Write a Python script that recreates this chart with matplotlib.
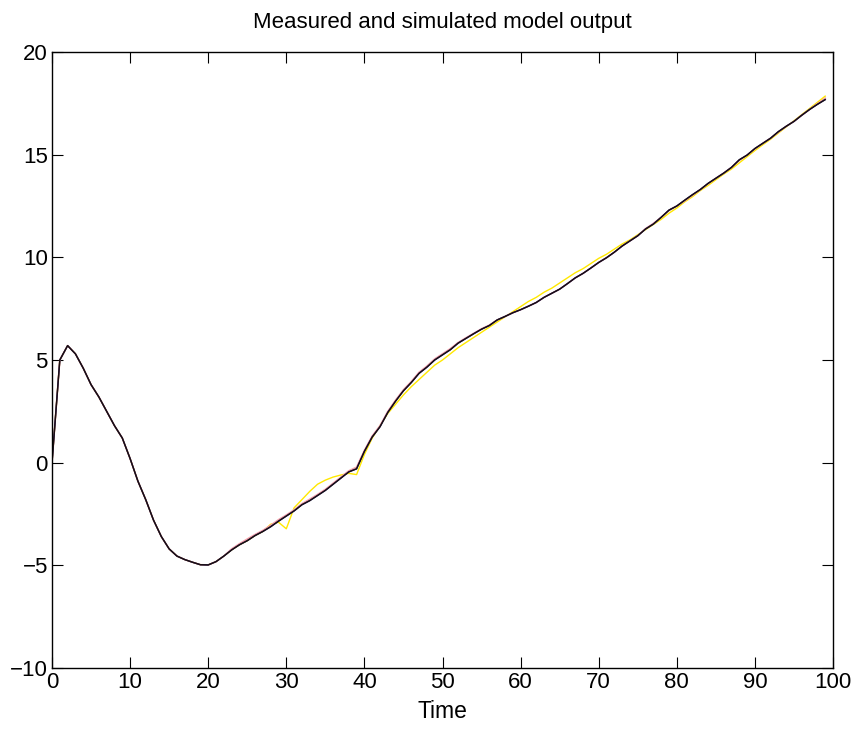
import matplotlib
matplotlib.use("Agg")
import matplotlib.pyplot as plt

plt.rcParams['font.family'] = ['Liberation Sans', 'DejaVu Sans']

time = list(range(100))

measured = [0, 5.0, 5.7, 5.3, 4.6, 3.8, 3.2, 2.5, 1.8, 1.2,
            0.2, -0.9, -1.8, -2.8, -3.6, -4.2, -4.55, -4.72, -4.85, -4.97,
            -4.98, -4.82, -4.55, -4.25, -4.0, -3.8, -3.55, -3.35, -3.0, -2.9,
            -3.22, -2.2, -1.8, -1.4, -1.05, -0.85, -0.7, -0.6, -0.52, -0.58,
            0.4, 1.2, 1.8, 2.4, 2.85, 3.3, 3.7, 4.05, 4.4, 4.75,
            5.0, 5.3, 5.6, 5.85, 6.1, 6.35, 6.6, 6.85, 7.1, 7.35,
            7.6, 7.85, 8.05, 8.3, 8.5, 8.75, 9.0, 9.25, 9.45, 9.7,
            9.95, 10.15, 10.4, 10.65, 10.85, 11.1, 11.35, 11.6, 11.85, 12.15,
            12.4, 12.7, 12.95, 13.25, 13.5, 13.78, 14.05, 14.3, 14.6, 14.9,
            15.2, 15.48, 15.75, 16.05, 16.35, 16.65, 16.95, 17.25, 17.55, 17.85]

model_a = [0, 5.0, 5.7, 5.3, 4.6, 3.8, 3.2, 2.5, 1.8, 1.2,
           0.2, -0.9, -1.8, -2.8, -3.6, -4.2, -4.55, -4.72, -4.85, -4.97,
           -4.98, -4.82, -4.55, -4.2, -3.95, -3.72, -3.5, -3.3, -3.05, -2.78,
           -2.55, -2.3, -2.0, -1.78, -1.55, -1.3, -1.0, -0.7, -0.4, -0.22,
           0.6, 1.3, 1.8, 2.5, 3.05, 3.55, 3.95, 4.4, 4.7, 5.05,
           5.3, 5.55, 5.85, 6.08, 6.3, 6.52, 6.7, 6.95, 7.12, 7.3,
           7.45, 7.62, 7.8, 8.05, 8.25, 8.45, 8.72, 9.0, 9.22, 9.48,
           9.75, 9.98, 10.25, 10.55, 10.8, 11.05, 11.4, 11.65, 11.95, 12.28,
           12.5, 12.75, 13.02, 13.3, 13.58, 13.85, 14.1, 14.38, 14.72, 14.98,
           15.28, 15.55, 15.8, 16.1, 16.38, 16.62, 16.92, 17.2, 17.48, 17.75]

model_b = [0, 5.0, 5.7, 5.3, 4.6, 3.8, 3.2, 2.5, 1.8, 1.2,
           0.2, -0.9, -1.8, -2.8, -3.6, -4.2, -4.55, -4.72, -4.85, -4.97,
           -4.98, -4.82, -4.55, -4.25, -4.0, -3.8, -3.55, -3.35, -3.12, -2.85,
           -2.6, -2.35, -2.05, -1.85, -1.6, -1.35, -1.05, -0.75, -0.45, -0.3,
           0.55, 1.25, 1.75, 2.45, 3.0, 3.5, 3.9, 4.35, 4.65, 5.0,
           5.25, 5.5, 5.82, 6.05, 6.28, 6.5, 6.68, 6.95, 7.12, 7.3,
           7.45, 7.62, 7.8, 8.05, 8.25, 8.45, 8.72, 9.0, 9.22, 9.48,
           9.75, 9.98, 10.25, 10.55, 10.8, 11.05, 11.38, 11.62, 11.95, 12.3,
           12.5, 12.78, 13.05, 13.3, 13.6, 13.85, 14.1, 14.38, 14.75, 14.98,
           15.3, 15.55, 15.8, 16.12, 16.38, 16.62, 16.92, 17.2, 17.45, 17.68]

model_c = [0, 5.0, 5.7, 5.3, 4.6, 3.8, 3.2, 2.5, 1.8, 1.2,
           0.2, -0.9, -1.8, -2.8, -3.6, -4.2, -4.55, -4.72, -4.85, -4.97,
           -4.98, -4.82, -4.55, -4.25, -4.0, -3.8, -3.55, -3.35, -3.12, -2.85,
           -2.6, -2.35, -2.05, -1.85, -1.6, -1.35, -1.05, -0.75, -0.45, -0.3,
           0.55, 1.25, 1.75, 2.45, 3.0, 3.5, 3.9, 4.35, 4.65, 5.0,
           5.25, 5.5, 5.82, 6.05, 6.28, 6.5, 6.68, 6.95, 7.12, 7.3,
           7.45, 7.62, 7.8, 8.05, 8.25, 8.45, 8.72, 9.0, 9.22, 9.48,
           9.75, 9.98, 10.25, 10.55, 10.8, 11.05, 11.38, 11.62, 11.95, 12.3,
           12.5, 12.78, 13.05, 13.3, 13.6, 13.85, 14.1, 14.38, 14.75, 14.98,
           15.3, 15.55, 15.8, 16.12, 16.38, 16.62, 16.92, 17.2, 17.45, 17.68]

xticks = [0, 10, 20, 30, 40, 50, 60, 70, 80, 90, 100]
yticks = [-10, -5, 0, 5, 10, 15, 20]

fig = plt.figure(figsize=(8.58, 7.31), dpi=100)
ax = fig.add_axes([52 / 858, 1 - 668 / 731, 781 / 858, 616 / 731])

ax.plot(time, measured, color='#ffe800', lw=1.0)
ax.plot(time, model_a, color='#f4a0a8', lw=1.2)
ax.plot(time, model_b, color='#1a1a80', lw=1.0)
ax.plot(time, model_c, color='#1a0f0f', lw=1.0)

ax.set_xlim(0, 100)
ax.set_ylim(-10, 20)
ax.set_xticks(xticks)
ax.set_yticks(yticks)
ax.tick_params(direction='in', top=True, right=True, length=8, width=0.8,
               labelsize=16, pad=3)
for s in ax.spines.values():
    s.set_linewidth(1.0)
ax.set_xlabel('Time', fontsize=16.5, labelpad=5)
ax.set_title('Measured and simulated model output', fontsize=16, pad=17)

fig.savefig('out.png', dpi=100)
